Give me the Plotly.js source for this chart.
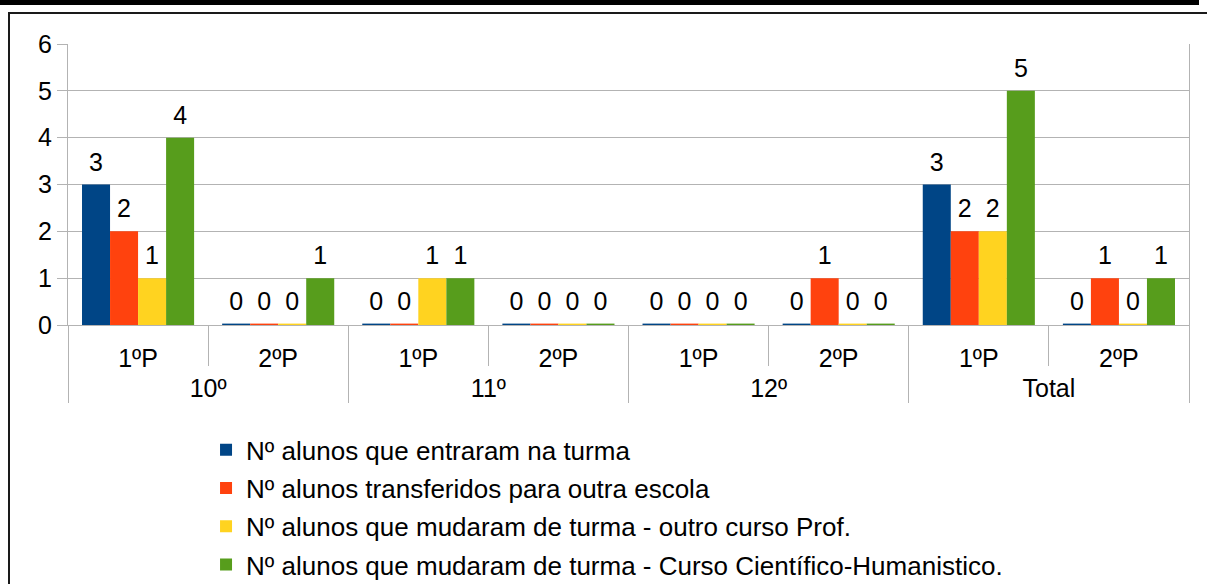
<!DOCTYPE html>
<html>
<head>
<meta charset="utf-8">
<script src="https://cdn.plot.ly/plotly-3.0.1.min.js"></script>
<style>
  html, body { margin: 0; padding: 0; background: #fff; }
  #wrap { position: relative; width: 1207px; height: 584px; overflow: hidden; }
  #chart { position: absolute; left: 0; top: 0; width: 1207px; height: 584px; }
  .deco { position: absolute; pointer-events: none; }
</style>
</head>
<body>
<div id="wrap">
  <div id="chart"></div>
  <div class="deco" style="left:0;top:0;width:1199px;height:5px;background:#000;"></div>
  <div class="deco" style="left:8px;top:12px;width:1199px;height:2px;background:#1a1a1a;"></div>
  <div class="deco" style="left:8px;top:12px;width:2px;height:572px;background:#1a1a1a;"></div>
</div>
<script>
// Categories (two-level)
const groups = ["10º", "10º", "11º", "11º", "12º", "12º", "Total", "Total"];
const periods = ["1ºP", "2ºP", "1ºP", "2ºP", "1ºP", "2ºP", "1ºP", "2ºP"];

// Series
const seriesNames = [
  "Nº alunos que entraram na turma",
  "Nº alunos transferidos para outra escola",
  "Nº alunos que mudaram de turma - outro curso Prof.",
  "Nº alunos que mudaram de turma - Curso Científico-Humanistico."
];
const entraram    = [3, 0, 0, 0, 0, 0, 3, 0];
const transferidos = [2, 0, 0, 0, 0, 1, 2, 1];
const outroCurso  = [1, 0, 1, 0, 0, 0, 2, 0];
const cientifico  = [4, 1, 1, 0, 0, 0, 5, 1];

const colors = ["#004586", "#ff420e", "#ffd320", "#579d1c"];
const yTicks = [0, 1, 2, 3, 4, 5, 6];

const seriesValues = [entraram, transferidos, outroCurso, cientifico];
const FONT = "Liberation Sans, Arial, sans-serif";

// invisible, taller spacers (used only to enlarge label boxes for spacing)
const pad = px => '<span style="font-size:' + px + 'px">\u00a0</span>';

const traces = seriesValues.map((vals, i) => ({
  type: "bar",
  name: seriesNames[i],
  legendgroup: "g" + i,
  x: [groups, periods.map(p => pad(35) + p + pad(35))],
  // zero values are drawn as a hairline at the baseline, as in the original
  y: vals.map(v => (v === 0 ? 0.03 : v)),
  text: vals.map(v => pad(52) + String(v) + pad(52)),
  texttemplate: "%{text}",
  textposition: "outside",
  constraintext: "none",
  textfont: { family: FONT, size: 25, color: "#000" },
  cliponaxis: false,
  marker: { color: colors[i], line: { width: 0 } },
  hoverinfo: "skip"
}));

const layout = {
  width: 1207,
  height: 584,
  margin: { l: 68, r: 18, t: 44, b: 259, autoexpand: false },
  paper_bgcolor: "rgba(0,0,0,0)",
  plot_bgcolor: "#fff",
  font: { family: FONT, size: 25, color: "#000" },
  barmode: "group",
  bargap: 0.2,
  bargroupgap: 0,
  showlegend: true,
  legend: {
    orientation: "v",
    xref: "container",
    yref: "container",
    x: 0.1707,
    xanchor: "left",
    y: 0.270,
    yanchor: "top",
    font: { family: FONT, size: 26, color: "#000" },
    tracegroupgap: 1.5,
    bgcolor: "rgba(0,0,0,0)"
  },
  xaxis: {
    type: "multicategory",
    automargin: false,
    showgrid: false,
    showline: true,
    linecolor: "#b3b3b3",
    linewidth: 1,
    layer: "below traces",
    ticks: "outside",
    tickson: "boundaries",
    ticklen: 40,
    tickcolor: "#b3b3b3",
    ticklabelstandoff: 11,
    showdividers: true,
    dividercolor: "#b3b3b3",
    dividerwidth: 1,
    tickfont: { family: FONT, size: 25, color: "#000" }
  },
  yaxis: {
    automargin: false,
    range: [0, 6],
    tickvals: yTicks,
    ticktext: yTicks.map(String),
    showgrid: true,
    gridcolor: "#b3b3b3",
    gridwidth: 1,
    zeroline: false,
    showline: true,
    mirror: true,
    linecolor: "#b3b3b3",
    linewidth: 1,
    layer: "below traces",
    ticks: "outside",
    ticklen: 10,
    tickcolor: "#b3b3b3",
    tickfont: { family: FONT, size: 25, color: "#000" }
  }
};

Plotly.newPlot("chart", traces, layout, { staticPlot: true, displayModeBar: false });
</script>
</body>
</html>
